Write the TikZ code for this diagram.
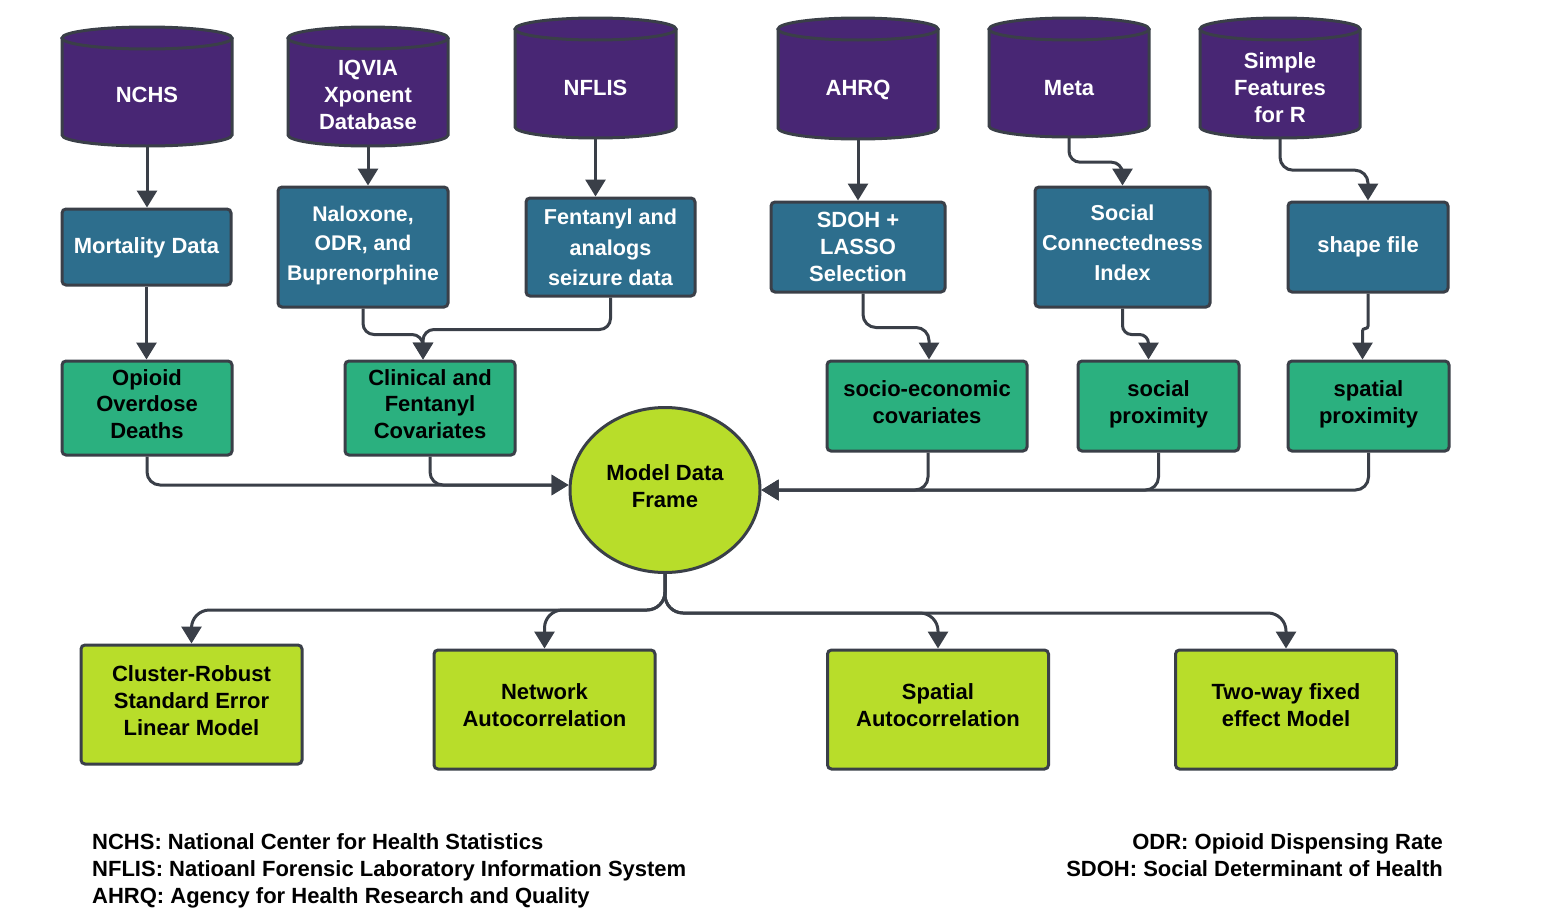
\documentclass[tikz,border=0pt]{standalone}
\usepackage{fontspec}
\setmainfont{Liberation Sans}
\usetikzlibrary{arrows.meta,calc,shapes.geometric}
\definecolor{purp}{HTML}{482674}
\definecolor{bluefill}{HTML}{2D6E8D}
\definecolor{greenfill}{HTML}{2BB07F}
\definecolor{limefill}{HTML}{B8DD2A}
\definecolor{edgecol}{HTML}{3A3F48}
\tikzset{
  strutted/.style 2 args={execute at begin node={\rule{0pt}{#1}}, execute at end node={\rule[-#2]{0pt}{0pt}}},
  basebox/.style={draw=edgecol, line width=3pt, rounded corners=4pt, align=center, inner sep=0pt, strutted={17.7pt}{8pt}},
  sbox/.style={basebox, fill=bluefill, text=white, font=\bfseries\fontsize{22}{29.5}\selectfont},
  gbox/.style={basebox, fill=greenfill, text=black, font=\bfseries\fontsize{22}{26.5}\selectfont},
  lbox/.style={basebox, fill=limefill, text=black, font=\bfseries\fontsize{22}{27}\selectfont},
  cyltext/.style={text=white, align=center, inner sep=0pt, strutted={17.7pt}{8pt}, font=\bfseries\fontsize{22}{27}\selectfont},
  legendtext/.style={text=black, inner sep=0pt, font=\bfseries\fontsize{22}{27}\selectfont},
  arr/.style={draw=edgecol, line width=3pt, -{Triangle[width=20pt,length=17pt]}, rounded corners=13pt},
}
\newcommand\mycyl[7]{%
  \fill[purp] (#2,#4+11) rectangle (#3,#5-11);
  \fill[purp] ({(#2+#3)/2},#5-11) ellipse[x radius={(#3-#2)/2}, y radius=11];
  \draw[edgecol,line width=3pt] (#2,#4+11) -- (#2,#5-11) arc[start angle=180,end angle=0,x radius={(#3-#2)/2},y radius=11] -- (#3,#4+11);
  \filldraw[fill=purp,draw=edgecol,line width=3pt] ({(#2+#3)/2},#4+11) ellipse[x radius={(#3-#2)/2}, y radius=11];
  \node[inner sep=0pt, minimum width={#3-#2}, minimum height={#5-#4}] (#1) at ({(#2+#3)/2},{(#4+#5)/2}) {};
  \node[cyltext] (#1t) at ({(#2+#3)/2},#7) {#6};
}
\begin{document}
\begin{tikzpicture}[x=1pt,y=-1pt]
\fill[white] (0,0) rectangle (1563,913);
\useasboundingbox (0,0) rectangle (1563,913);

% databases
\mycyl{nchs}{62}{232}{27}{146}{NCHS}{98}
\mycyl{iqvia}{288}{448}{27}{146}{IQVIA\\Xponent\\Database}{99}
\mycyl{nflis}{515}{676}{18}{138}{NFLIS}{91}
\mycyl{ahrq}{778}{938}{18}{139}{AHRQ}{91}
\mycyl{meta}{989}{1149}{18}{137}{Meta}{91}
\mycyl{sf}{1200}{1360}{18}{138}{Simple\\Features\\for R}{91.5}

% blue boxes
\node[sbox, strutted={21.7pt}{8pt}, minimum width=169, minimum height=76] (mort) at (146.5,247) {Mortality Data};
\node[sbox, minimum width=170, minimum height=120, font=\bfseries\fontsize{21.2}{29.5}\selectfont] (nalox) at (363,247) {Naloxone,\\ODR, and\\Buprenorphine};
\node[sbox, minimum width=169, minimum height=98, font=\bfseries\fontsize{21.6}{30.5}\selectfont] (fent) at (610.5,247) {\rule{0pt}{24.5pt}Fentanyl and\\analogs\\seizure data};
\node[sbox, minimum width=174, minimum height=90, font=\bfseries\fontsize{22}{27}\selectfont] (sdoh) at (858,247) {\rule{0pt}{23.5pt}SDOH +\\LASSO\\Selection};
\node[sbox, strutted={19.7pt}{8pt}, minimum width=175, minimum height=120, font=\bfseries\fontsize{21.6}{30}\selectfont] (sci) at (1122.5,247) {Social\\Connectedness\\Index};
\node[sbox, strutted={19.7pt}{8pt}, minimum width=160, minimum height=90] (shp) at (1368,247) {shape file};

% green boxes
\node[gbox, minimum width=170, minimum height=94] (opioid) at (147,408) {Opioid\\Overdose\\Deaths};
\node[gbox, minimum width=170, minimum height=94] (clin) at (430,408) {Clinical and\\Fentanyl\\Covariates};
\node[gbox, minimum width=200, minimum height=90] (socio) at (927,406) {socio-economic\\covariates};
\node[gbox, minimum width=161, minimum height=90] (socprox) at (1158.5,406) {social\\proximity};
\node[gbox, minimum width=161, minimum height=90] (spprox) at (1368.5,406) {spatial\\proximity};

% model data frame
\node[ellipse, draw=edgecol, line width=3pt, fill=limefill, minimum width=190, minimum height=165, inner sep=0pt, align=center, text=black, strutted={17.7pt}{8pt}, font=\bfseries\fontsize{22}{27}\selectfont] (mdf) at (665,490) {Model Data\\Frame};

% models
\node[lbox, minimum width=221, minimum height=119] (crse) at (191.5,704.5) {Cluster-Robust\\Standard Error\\Linear Model};
\node[lbox, minimum width=221, minimum height=119] (net) at (544.5,709.5) {Network\\Autocorrelation};
\node[lbox, minimum width=221, minimum height=119] (spat) at (938,709.5) {Spatial\\Autocorrelation};
\node[lbox, minimum width=221, minimum height=119] (twfe) at (1286,709.5) {Two-way fixed\\effect Model};

% connectors
\draw[arr] (nchs.south) -- (nchs.south |- mort.north);
\draw[arr] (iqvia.south) -- (iqvia.south |- nalox.north);
\draw[arr] (nflis.south) -- (nflis.south |- fent.north);
\draw[arr] (ahrq.south) -- (ahrq.south |- sdoh.north);
\draw[arr, rounded corners=11pt] (meta.south) -- ++(0,25) -| (sci.north);
\draw[arr] (sf.south) -- ++(0,32) -| (shp.north);
\draw[arr] (mort.south) -- (mort.south |- opioid.north);
\draw[arr, rounded corners=11pt] (nalox.south) -- ++(0,26) -| ([xshift=-7pt]clin.north);
\draw[arr, rounded corners=11pt] (fent.south) -- ++(0,32) -| ([xshift=-7pt]clin.north);
\draw[arr] ([xshift=5pt]sdoh.south) -- ++(0,34) -| ([xshift=2pt]socio.north);
\draw[arr, rounded corners=9pt] (sci.south) -- ++(0,26) -| ([xshift=-10pt]socprox.north);
\draw[arr, rounded corners=2.5pt] (shp.south) -- ++(0,35) -| ([xshift=-6pt]spprox.north);
\draw[arr] (opioid.south) |- ([yshift=5pt]mdf.west);
\draw[arr] (clin.south) |- ([yshift=5pt]mdf.west);
\draw[arr] ([xshift=1pt]socio.south) |- (mdf.east);
\draw[arr] (socprox.south) |- (mdf.east);
\draw[arr] (spprox.south) |- (mdf.east);
\draw[arr, rounded corners=18pt] (mdf.south) -- ++(0,36) -| (crse.north);
\draw[arr, rounded corners=18pt] (mdf.south) -- ++(0,36) -| (net.north);
\draw[arr, rounded corners=18pt] (mdf.south) -- ++(0,39) -| (spat.north);
\draw[arr, rounded corners=18pt] (mdf.south) -- ++(0,39) -| (twfe.north);

% legend
\node[legendtext, anchor=base west] (l1) at (92,849) {NCHS: National Center for Health Statistics};
\node[legendtext, anchor=base west] (l2) at (92,876) {NFLIS: Natioanl Forensic Laboratory Information System};
\node[legendtext, anchor=base west] (l3) at (92,903) {AHRQ: Agency for Health Research and Quality};
\node[legendtext, anchor=base east] (r1) at (1443,849) {ODR: Opioid Dispensing Rate};
\node[legendtext, anchor=base east] (r2) at (1443,876) {SDOH: Social Determinant of Health};
\end{tikzpicture}
\end{document}
